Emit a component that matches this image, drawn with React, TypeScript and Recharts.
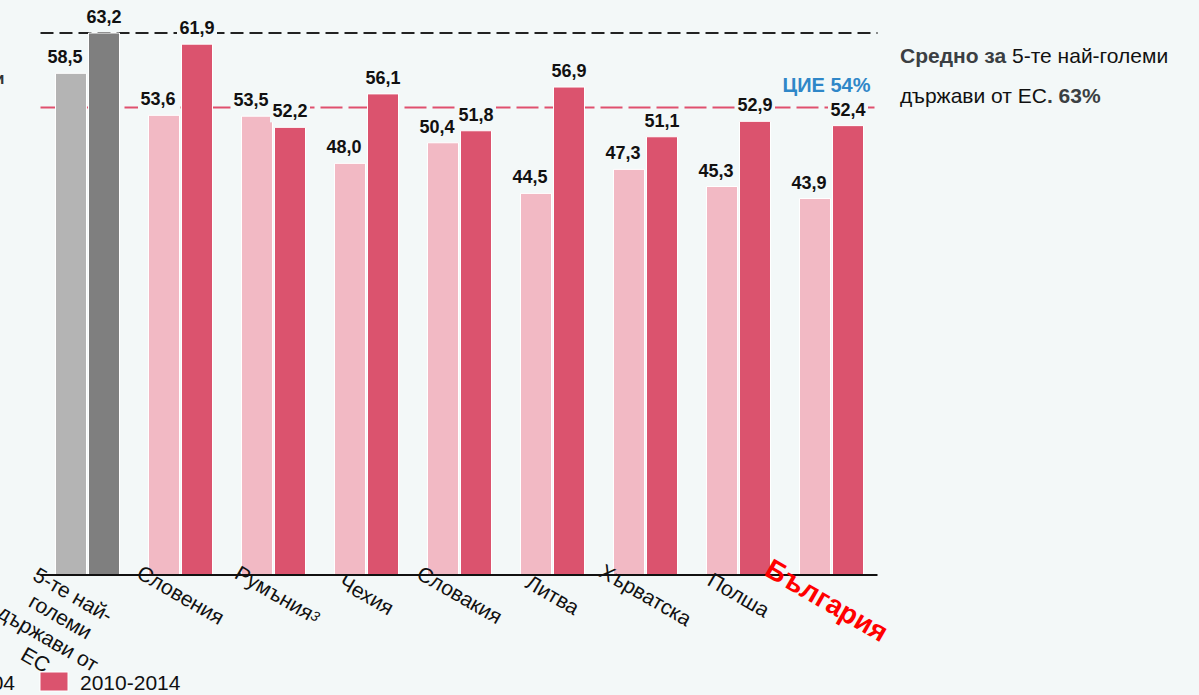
import React from "react";
import { Bar, BarChart, Cell, LabelList, ReferenceLine, XAxis, YAxis } from "recharts";

// Доля на ... по държави, два периода
const categories = [
  "5-те най-големи държави от ЕС",
  "Словения",
  "Румъния",
  "Чехия",
  "Словакия",
  "Литва",
  "Хърватска",
  "Полша",
  "България",
];
const period2000 = [58.5, 53.6, 53.5, 48.0, 50.4, 44.5, 47.3, 45.3, 43.9];
const period2010 = [63.2, 61.9, 52.2, 56.1, 51.8, 56.9, 51.1, 52.9, 52.4];
const periodNames = ["2000-2004", "2010-2014"];
const topFiveLevel = 63.2;
const cieLevel = 54.5; // drawn slightly above 54 in the source
const cieText = "ЦИЕ 54%";

const BG = "#f3f8f8";
const FONT = "'Liberation Sans', Arial, sans-serif";
const LIGHT = ["#b4b4b4", "#f2b9c4"];
const DARK = ["#7f7f7f", "#db536e"];

const rows = categories.map((name, i) => ({
  name,
  p1: period2000[i],
  p2: period2010[i],
}));

const fmt = (v: number) => v.toFixed(1).replace(".", ",");

function valueLabel(dx: number) {
  return (props: any) => {
    const { x, y, width, value } = props;
    const cx = Number(x) + Number(width) / 2 + dx;
    const base = Number(y) - 10;
    return (
      <g>
        <rect x={cx - 20} y={base - 15} width={40} height={20} fill={BG} />
        <text
          x={cx}
          y={base}
          textAnchor="middle"
          fontFamily={FONT}
          fontWeight={700}
          fontSize={18}
          fill="#111"
        >
          {fmt(Number(value))}
        </text>
      </g>
    );
  };
}

function CategoryTick(props: any) {
  const { x, y, index, payload } = props;
  const name: string = payload.value;
  const top = Number(y);

  if (index === 0) {
    const lines = ["5-те най-", "големи", "държави от", "ЕС"];
    const cx = x - 14.5;
    const cy = top + 21;
    return (
      <text
        transform={`rotate(30 ${cx} ${cy})`}
        x={cx}
        y={cy + 6}
        textAnchor="middle"
        fontFamily={FONT}
        fontSize={21}
        fill="#111"
      >
        {lines.map((l, i) => (
          <tspan key={l} x={cx} dy={i === 0 ? 0 : 25}>
            {l}
          </tspan>
        ))}
      </text>
    );
  }

  if (name === "България") {
    const cx = x - 4;
    const cy = top + 25;
    return (
      <text
        transform={`rotate(30 ${cx} ${cy})`}
        x={cx}
        y={cy + 10}
        textAnchor="middle"
        fontFamily={FONT}
        fontWeight={700}
        fontSize={28}
        fill="#ff0000"
      >
        {name}
      </text>
    );
  }

  const cx = name === "Румъния" ? x + 4 : x;
  const cy = top + 21;
  return (
    <text
      transform={`rotate(30 ${cx} ${cy})`}
      x={cx}
      y={cy + 6}
      textAnchor="middle"
      fontFamily={FONT}
      fontSize={21}
      fill="#111"
    >
      {name}
      {name === "Румъния" ? (
        <tspan fontSize={14} fontStyle="italic" dy={-3}>
          3
        </tspan>
      ) : null}
    </text>
  );
}

function CieLabel(props: any) {
  const vb = props.viewBox || {};
  return (
    <text
      x={vb.x + vb.width - 7}
      y={vb.y - 16}
      textAnchor="end"
      fontFamily={FONT}
      fontWeight={700}
      fontSize={20}
      fill="#2f87c8"
    >
      {cieText}
    </text>
  );
}

export default function App() {
  return (
    <div
      style={{
        position: "fixed",
        left: 0,
        top: 0,
        width: 1199,
        height: 695,
        background: BG,
        overflow: "hidden",
      }}
    >
      <BarChart
        width={1199}
        height={695}
        data={rows}
        margin={{ top: 9, right: 321.5, bottom: 90, left: 40.5 }}
        barGap={2}
        barSize={31}
      >
        <XAxis
          dataKey="name"
          height={30}
          interval={0}
          axisLine={{ stroke: "#111", strokeWidth: 2 }}
          tickLine={false}
          tickSize={0}
          tickMargin={0}
          tick={<CategoryTick />}
        />
        <YAxis hide domain={[0, 66]} allowDataOverflow />
        <ReferenceLine
          y={topFiveLevel}
          stroke="#222"
          strokeWidth={2}
          strokeDasharray="13 6"
          zIndex={50}
        />
        <ReferenceLine
          y={cieLevel}
          stroke="#e0506e"
          strokeWidth={2}
          strokeDasharray="22 6"
          zIndex={50}
          label={<CieLabel />}
        />
        <Bar dataKey="p1" name={periodNames[0]} stroke="#fff" strokeWidth={1} isAnimationActive={false}>
          {rows.map((r, i) => (
            <Cell key={r.name} fill={i === 0 ? LIGHT[0] : LIGHT[1]} />
          ))}
          <LabelList dataKey="p1" content={valueLabel(-6)} />
        </Bar>
        <Bar dataKey="p2" name={periodNames[1]} stroke="#fff" strokeWidth={1} isAnimationActive={false}>
          {rows.map((r, i) => (
            <Cell key={r.name} fill={i === 0 ? DARK[0] : DARK[1]} />
          ))}
          <LabelList dataKey="p2" content={valueLabel(0)} />
        </Bar>
      </BarChart>

      <svg
        width={1199}
        height={695}
        style={{ position: "absolute", left: 0, top: 0, pointerEvents: "none" }}
      >
        {/* cut-off heading on the left */}
        <text x={-6} y={83.5} fontFamily={FONT} fontWeight={700} fontSize={17} fill="#333">
          и
        </text>

        {/* note on the right */}
        <text x={900} y={63} fontFamily={FONT} fontSize={21} fill="#111">
          <tspan fontWeight={700} fill="#3b3f43">Средно за </tspan>
          <tspan>5-те най-големи</tspan>
        </text>
        <text x={900} y={103} fontFamily={FONT} fontSize={21} fill="#111">
          <tspan>държави от ЕС</tspan>
          <tspan fontWeight={700} fill="#3b3f43">. 63%</tspan>
        </text>

        {/* legend */}
        <rect x={-135} y={672} width={28} height={19} fill={LIGHT[1]} />
        <text x={15} y={690} textAnchor="end" fontFamily={FONT} fontSize={21} fill="#111">
          {periodNames[0]}
        </text>
        <rect x={40} y={672} width={28} height={19} fill={DARK[1]} stroke="#fff" />
        <text x={80} y={690} fontFamily={FONT} fontSize={21} fill="#111">
          {periodNames[1]}
        </text>
      </svg>
    </div>
  );
}
